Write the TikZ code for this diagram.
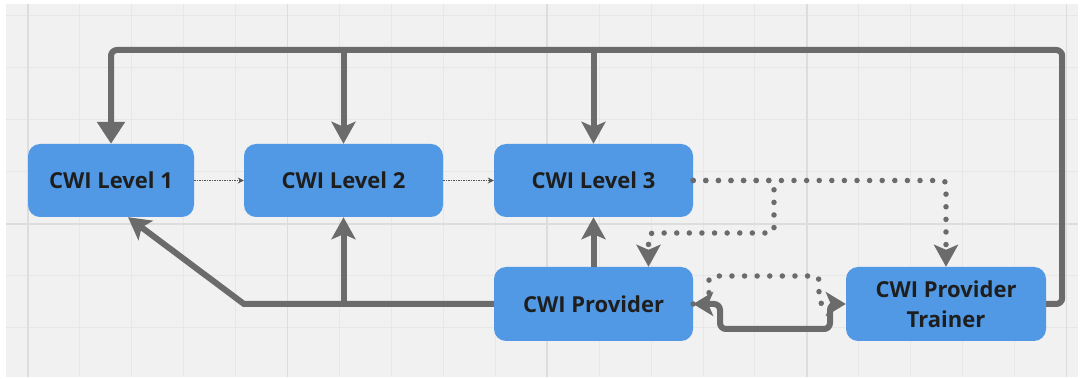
\documentclass[tikz,border=0pt]{standalone}
\usepackage{fontspec}
\setmainfont{Open Sans}
\usetikzlibrary{arrows.meta,calc}
\definecolor{bgc}{HTML}{F1F1F1}
\definecolor{gridminor}{HTML}{E7E7E7}
\definecolor{gridmajor}{HTML}{DDDDDD}
\definecolor{boxblue}{HTML}{5199E4}
\definecolor{lnc}{HTML}{6B6B6B}
\definecolor{thinc}{HTML}{555555}
\definecolor{txtc}{HTML}{1E1E1E}
\begin{document}
\begin{tikzpicture}[x=1pt,y=-1pt,
  box/.style={draw=none, fill=boxblue, rounded corners=12pt, minimum height=73pt,
    text=txtc, font=\fontsize{22}{30}\selectfont\bfseries, align=center, inner sep=0pt},
  big/.style={draw=lnc, line width=6pt, rounded corners=6pt},
  tri/.style={-{Triangle[length=22pt,width=27pt]}},
  stl/.style={-{Stealth[length=22pt,width=24pt,inset=5pt]}},
  stlboth/.style={{Stealth[length=20pt,width=24pt,inset=5pt]}-{Stealth[length=20pt,width=24pt,inset=5pt]}},
  dots/.style={draw=lnc, line width=5.5pt, line cap=round, dash pattern=on 0pt off 12.6pt, rounded corners=4pt},
  thin/.style={draw=thinc, line width=0.8pt, dash pattern=on 1.5pt off 1pt, -{Stealth[length=6pt,width=6pt]}}
]
\useasboundingbox (0,0) rectangle (1080,379);
\fill[white] (0,0) rectangle (1080,379);
\fill[bgc] (6,4) rectangle (1078,377);
\foreach \i in {0,...,20} {
  \pgfmathsetmacro\xx{28+51.925*\i}
  \draw[gridminor, line width=1pt] (\xx,4) -- (\xx,377);
}
\foreach \yy in {16,68,120,172,276,328} {
  \draw[gridminor, line width=1pt] (6,\yy) -- (1078,\yy);
}
\foreach \i in {0,...,4} {
  \pgfmathsetmacro\xx{28+259.625*\i}
  \draw[gridmajor, line width=1.6pt] (\xx,4) -- (\xx,377);
}
\draw[gridmajor, line width=1.6pt] (6,224) -- (1078,224);

% nodes
\node[box, minimum width=166pt] (l1) at (111,180.5) {CWI Level 1};
\node[box, minimum width=199pt] (l2) at (343.5,180.5) {CWI Level 2};
\node[box, minimum width=199pt] (l3) at (593.5,180.5) {CWI Level 3};
\node[box, minimum width=199pt, minimum height=74pt] (prov) at (593.5,304) {CWI Provider};
\node[box, minimum width=200pt, minimum height=74pt] (tr) at (946,304) {CWI Provider\\Trainer};

\coordinate (topy) at (0,50);
\coordinate (bend) at (244,304);

% top feedback from trainer
\draw[big, tri] (tr.east) -- ++(16,0) |- (l1.north |- topy) -- (l1.north);
\draw[big, stl, rounded corners=0pt] (l2.north |- topy) -- (l2.north);
\draw[big, stl, rounded corners=0pt] (l3.north |- topy) -- (l3.north);

% provider to levels
\draw[big, stl, rounded corners=0pt] (prov.west) -- (bend) -- ([xshift=17pt]l1.south);
\draw[big, stl, rounded corners=0pt] (l2.south |- prov.west) -- (l2.south);
\draw[big, stl] (prov.north) -- (l3.south);

% thin dotted level progression
\draw[thin] (l1.east) -- (l2.west);
\draw[thin] (l2.east) -- (l3.west);

% dotted from level 3
\draw[dots, -{Stealth[length=22pt,width=24pt,inset=5pt]}] (l3.east) -| (tr.north);
\draw[dots, -{Stealth[length=22pt,width=24pt,inset=5pt]}] (l3.east) -- (774,180.5) -- (774,233) -- (648.5,233) -- ([xshift=55pt]prov.north);

% provider <-> trainer
\draw[dots] (prov.east) -- (709,304) -- (709,276) -- (819,276) -- (819,304) -- (tr.west);
\draw[big, stlboth] (prov.east) -- (720,304) -- (720,329) -- (830,329) -- (830,304) -- (tr.west);
\end{tikzpicture}
\end{document}
